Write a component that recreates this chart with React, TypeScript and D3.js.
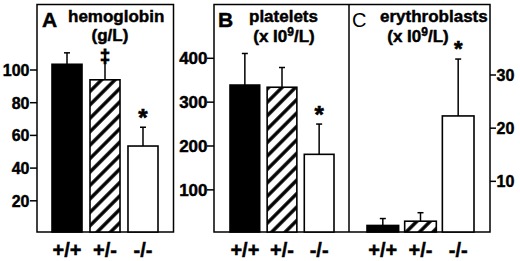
import React from "react";
import * as d3 from "d3";

const groups = ["+/+", "+/-", "-/-"];
const hemoglobin = [103.5, 94, 53.5];
const hemoglobinErr = [7, 14, 11.5];
const hemoglobinTicks = [20, 40, 60, 80, 100];
const platelets = [339, 334, 181];
const plateletsErr = [72, 45, 69];
const plateletsTicks = [100, 200, 300, 400];
const erythro = [1.7, 2.5, 22.3];
const erythroErr = [1.3, 1.6, 10.7];
const erythroTicks = [10, 20, 30];
const fills = ["#000", "url(#hatch)", "#fff"];

const FONT = "'Liberation Sans', Arial, Helvetica, sans-serif";
const BOTTOM = 232;

type PanelProps = {
  values: number[];
  errs: number[];
  y: d3.ScaleLinear<number, number>;
  x: d3.ScaleBand<string>;
  marks: { i: number; ch: string; size: number; dy: number }[];
};

const heavy = { fontWeight: "bold" as const, fontFamily: FONT, stroke: "#000", strokeWidth: 0.45 };

function Bars({ values, errs, y, x, marks }: PanelProps) {
  const bw = x.bandwidth();
  return (
    <g>
      {groups.map((g, i) => {
        const x0 = x(g) as number;
        const cx = x0 + bw / 2;
        const top = y(values[i]);
        const et = y(values[i] + errs[i]);
        const m = marks.find((mm) => mm.i === i);
        return (
          <g key={g}>
            <line x1={cx} x2={cx} y1={top} y2={et} stroke="#000" strokeWidth={1.5} />
            {m && m.ch === "‡" ? null : (
              <line x1={cx - 3} x2={cx + 3} y1={et} y2={et} stroke="#000" strokeWidth={1.5} />
            )}
            <rect x={x0} y={top} width={bw} height={BOTTOM - top} fill={fills[i]} stroke="#000" strokeWidth={1.6} />
            {m ? (
              <text x={cx} y={et + m.dy} textAnchor="middle" fontSize={m.size} {...heavy}
                strokeWidth={m.ch === "‡" ? 1 : 0.6}>
                {m.ch}
              </text>
            ) : null}
            <text x={cx} y={257} textAnchor="middle" fontSize={20} {...heavy}>
              {g}
            </text>
          </g>
        );
      })}
    </g>
  );
}

export default function App() {
  const yA = d3.scaleLinear().domain([0, 100]).range([233.5, 70]);
  const yB = d3.scaleLinear().domain([0, 400]).range([233.7, 58.3]);
  const yC = d3.scaleLinear().domain([0, 30]).range([234.5, 75]);
  const xA = d3.scaleBand<string>().domain(groups).range([52, 158]).paddingInner(0.21);
  const xB = d3.scaleBand<string>().domain(groups).range([230, 334]).paddingInner(0.2);
  const xC = d3.scaleBand<string>().domain(groups).range([367, 474]).paddingInner(0.16);

  const t = heavy;

  return (
    <svg width={520} height={261} style={{ position: "absolute", left: 0, top: 0, background: "#fff" }}>
      <defs>
        <pattern id="hatch" patternUnits="userSpaceOnUse" width={9.5} height={9.5} patternTransform="rotate(45)">
          <rect width={9.5} height={9.5} fill="#fff" />
          <line x1={4.75} x2={4.75} y1={0} y2={9.5} stroke="#000" strokeWidth={3.4} />
        </pattern>
      </defs>
      <rect x={0} y={0} width={520} height={261} fill="#fff" />

      {/* Panel A */}
      <rect x={37} y={4.5} width={136.5} height={BOTTOM - 4.5} fill="none" stroke="#000" strokeWidth={1.5} />
      {hemoglobinTicks.map((v) => (
        <g key={v}>
          <line x1={30} x2={37} y1={yA(v)} y2={yA(v)} stroke="#000" strokeWidth={1.5} />
          <text x={29.5} y={yA(v) + 5.8} textAnchor="end" fontSize={16} {...t}>{v}</text>
        </g>
      ))}
      <Bars values={hemoglobin} errs={hemoglobinErr} y={yA} x={xA}
        marks={[{ i: 1, ch: "‡", size: 18, dy: 5 }, { i: 2, ch: "*", size: 24, dy: -1 }]} />
      <text x={42} y={27} fontSize={21} {...t}>A</text>
      <text x={68} y={22} fontSize={17} {...t}>hemoglobin</text>
      <text x={110} y={41} fontSize={17} textAnchor="middle" {...t}>(g/L)</text>

      {/* Panel B & C frame */}
      <rect x={214} y={4.5} width={276} height={BOTTOM - 4.5} fill="none" stroke="#000" strokeWidth={1.5} />
      <line x1={349} x2={349} y1={4.5} y2={BOTTOM} stroke="#000" strokeWidth={1.5} />

      {plateletsTicks.map((v) => (
        <g key={v}>
          <line x1={207} x2={214} y1={yB(v)} y2={yB(v)} stroke="#000" strokeWidth={1.5} />
          <text x={207.5} y={yB(v) + 6} textAnchor="end" fontSize={17} {...t}>{v}</text>
        </g>
      ))}
      <Bars values={platelets} errs={plateletsErr} y={yB} x={xB}
        marks={[{ i: 2, ch: "*", size: 24, dy: -1 }]} />
      <text x={218} y={27} fontSize={21} {...t}>B</text>
      <text x={249} y={22} fontSize={17} {...t}>platelets</text>
      <text x={284} y={42} fontSize={17} textAnchor="middle" {...t}>
        (x I0<tspan fontSize={12} dy={-6}>9</tspan><tspan dy={6}>/L)</tspan>
      </text>

      {erythroTicks.map((v) => (
        <g key={v}>
          <line x1={490} x2={496} y1={yC(v)} y2={yC(v)} stroke="#000" strokeWidth={1.5} />
          <text x={496.5} y={yC(v) + 5.8} textAnchor="start" fontSize={16} {...t}>{v}</text>
        </g>
      ))}
      <Bars values={erythro} errs={erythroErr} y={yC} x={xC}
        marks={[{ i: 2, ch: "*", size: 22, dy: -3 }]} />
      <text x={352} y={27} fontSize={20} fontFamily={FONT}>C</text>
      <text x={380} y={22} fontSize={17} {...t}>erythroblasts</text>
      <text x={418} y={42} fontSize={17} textAnchor="middle" {...t}>
        (x I0<tspan fontSize={12} dy={-6}>9</tspan><tspan dy={6}>/L)</tspan>
      </text>
    </svg>
  );
}
